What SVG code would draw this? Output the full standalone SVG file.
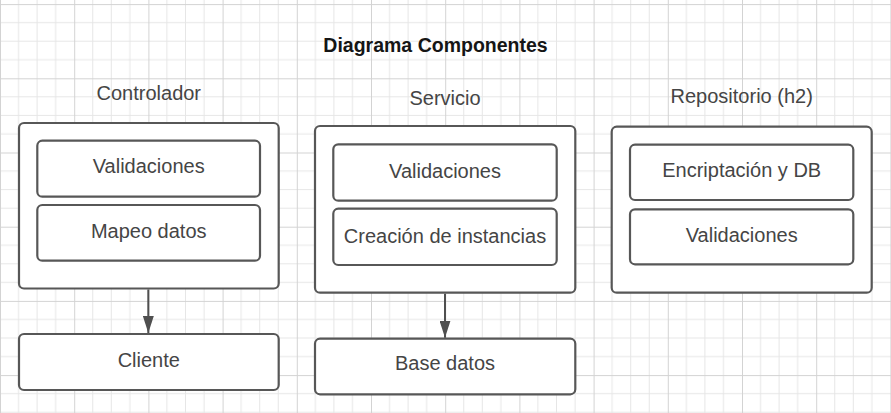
<svg xmlns="http://www.w3.org/2000/svg" width="891" height="413" viewBox="0 0 891 413">
<defs>
<pattern id="grid" patternUnits="userSpaceOnUse" x="0" y="4.1" width="74.2" height="74.2">
<path d="M18.55 0V74.2M37.1 0V74.2M55.65 0V74.2M0 18.55H74.2M0 37.1H74.2M0 55.65H74.2" stroke="#e6e6e6" stroke-width="1" fill="none"/>
<path d="M0.5 0V74.2M0 0.5H74.2" stroke="#d3d3d3" stroke-width="1" fill="none"/>
</pattern>
<marker id="arrow" markerWidth="17" markerHeight="11" refX="17" refY="5.5" orient="auto" markerUnits="userSpaceOnUse" viewBox="0 0 17 11">
<path d="M0 0L17 5.5L0 11Z" fill="#4f4f4f"/>
</marker>
<style>
.box{fill:#ffffff;stroke:#575757;stroke-width:2.2}
.lbl{font-family:"Liberation Sans",Arial,sans-serif;font-size:20px;fill:#454545;text-anchor:middle}
.title{font-family:"Liberation Sans",Arial,sans-serif;font-size:19.5px;font-weight:bold;fill:#151515;text-anchor:middle}
.conn{stroke:#4f4f4f;stroke-width:2;fill:none}
</style>
</defs>
<rect width="891" height="413" fill="#ffffff"/>
<rect width="891" height="413" fill="url(#grid)"/>
<text class="title" x="435.5" y="51.7">Diagrama Componentes</text>
<g id="controlador">
<text class="lbl" x="148.8" y="100">Controlador</text>
<rect class="box" x="19" y="123" width="259.7" height="165.5" rx="5"/>
<g id="ctrl-validaciones">
<rect class="box" x="37.3" y="140.7" width="222.7" height="56" rx="5"/>
<text class="lbl" x="148.7" y="173.3">Validaciones</text>
</g>
<g id="ctrl-mapeo">
<rect class="box" x="37.3" y="205" width="222.7" height="55.7" rx="5"/>
<text class="lbl" x="148.7" y="237.6">Mapeo datos</text>
</g>
</g>
<g id="cliente">
<rect class="box" x="19" y="334" width="259.7" height="56" rx="5"/>
<text class="lbl" x="148.8" y="367">Cliente</text>
</g>
<g id="servicio">
<text class="lbl" x="445" y="105">Servicio</text>
<rect class="box" x="315" y="126" width="260.3" height="166.7" rx="5"/>
<g id="serv-validaciones">
<rect class="box" x="333.3" y="144.3" width="223.4" height="56.4" rx="5"/>
<text class="lbl" x="445" y="178.3">Validaciones</text>
</g>
<g id="serv-creacion">
<rect class="box" x="333.3" y="208.7" width="223.4" height="56.3" rx="5"/>
<text class="lbl" x="445" y="242.7">Creación de instancias</text>
</g>
</g>
<g id="basedatos">
<rect class="box" x="315" y="338.7" width="260.3" height="55.6" rx="5"/>
<text class="lbl" x="445" y="370">Base datos</text>
</g>
<g id="repositorio">
<text class="lbl" x="741.7" y="103.3">Repositorio (h2)</text>
<rect class="box" x="611.7" y="126.7" width="260" height="166" rx="5"/>
<g id="repo-encriptacion">
<rect class="box" x="630" y="144.7" width="223.3" height="55.3" rx="5"/>
<text class="lbl" x="741.7" y="177.3">Encriptación y DB</text>
</g>
<g id="repo-validaciones">
<rect class="box" x="630" y="209.3" width="223.3" height="55" rx="5"/>
<text class="lbl" x="741.7" y="241.7">Validaciones</text>
</g>
</g>
<g id="connectors">
<line class="conn" x1="148.3" y1="289.5" x2="148.3" y2="333" marker-end="url(#arrow)"/>
<line class="conn" x1="445" y1="293.8" x2="445" y2="337.7" marker-end="url(#arrow)"/>
</g>
</svg>
